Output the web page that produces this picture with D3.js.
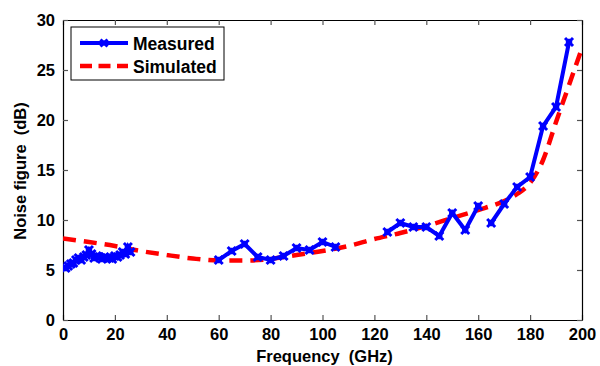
<!DOCTYPE html>
<html>
<head>
<meta charset="utf-8">
<script src="https://cdn.jsdelivr.net/npm/d3@7"></script>
<style>
  body { margin: 0; background: #fff; }
  text { font-family: Arial, "Liberation Sans", sans-serif; font-weight: bold; white-space: pre; }
</style>
</head>
<body>
<svg id="chart" width="600" height="366"></svg>
<script>
// measured noise figure, null = gap between sweeps
var measFreq = [1,2,3,4,5,6,7,8,9,10,11,12,13,14,15,16,17,18,19,20,21,22,23,24,25,26, null,
  60,65,70,75,80,85,90,95,100,105, null,
  125,130,135,140,145,150,155,160, null,
  165,170,175,180,185,190,195];
var measNF = [5.2,5.4,5.6,5.7,6.0,6.2,6.0,6.3,6.5,7.0,6.6,6.2,6.4,6.3,6.1,6.3,6.2,6.2,6.1,6.4,6.3,6.5,6.8,6.6,7.3,6.8, null,
  6.0,6.9,7.6,6.3,6.0,6.4,7.2,7.0,7.8,7.3, null,
  8.8,9.7,9.3,9.3,8.4,10.7,9.0,11.4, null,
  9.7,11.6,13.3,14.3,19.4,21.3,27.8];

// simulated curve
var simFreq = [0,10,20,30,40,50,60,70,80,90,100,110,120,130,140,150,160,170,175,180,185,190,195,200];
var simNF = [8.15,7.8,7.4,6.9,6.5,6.15,5.95,5.95,6.1,6.5,6.9,7.4,8.1,8.7,9.4,10.2,11.0,11.9,12.6,13.7,16.0,19.8,23.5,27.2];

var xTicks = [0,20,40,60,80,100,120,140,160,180,200];
var yTicks = [0,5,10,15,20,25,30];

var svg = d3.select("#chart");
var pLeft = 63, pRight = 582, pTop = 20, pBottom = 320;

var x = d3.scaleLinear().domain([0,200]).range([pLeft,pRight]);
var y = d3.scaleLinear().domain([0,30]).range([pBottom,pTop]);

var meas = measFreq.map(function(f,i){ return {f:f, v:measNF[i]}; });
var sim = simFreq.map(function(f,i){ return {f:f, v:simNF[i]}; });

svg.append("clipPath").attr("id","clip")
  .append("rect").attr("x",pLeft).attr("y",pTop).attr("width",pRight-pLeft).attr("height",pBottom-pTop);

// axes (box with inward ticks)
svg.append("g").attr("transform","translate(0,"+pBottom+")")
  .call(d3.axisBottom(x).tickValues(xTicks).tickSizeInner(-5).tickSizeOuter(0).tickPadding(8));
svg.append("g").attr("transform","translate(0,"+pTop+")")
  .call(d3.axisTop(x).tickValues(xTicks).tickSizeInner(-5).tickSizeOuter(0).tickFormat(""));
svg.append("g").attr("transform","translate("+pLeft+",0)")
  .call(d3.axisLeft(y).tickValues(yTicks).tickSizeInner(-5).tickSizeOuter(0).tickPadding(8));
svg.append("g").attr("transform","translate("+pRight+",0)")
  .call(d3.axisRight(y).tickValues(yTicks).tickSizeInner(-5).tickSizeOuter(0).tickFormat(""));

svg.selectAll(".domain").attr("stroke","#000").attr("stroke-width",1.2);
svg.selectAll(".tick line").attr("stroke","#555").attr("stroke-width",1.2);
svg.selectAll(".tick text").attr("font-size",16.5).attr("fill","#000")
  .style("font-family","Arial, 'Liberation Sans', sans-serif").style("font-weight","bold");

var line = d3.line()
  .defined(function(d){ return d.f !== null && d.v !== null; })
  .x(function(d){ return x(d.f); })
  .y(function(d){ return y(d.v); });

var plot = svg.append("g").attr("clip-path","url(#clip)");

plot.append("path").datum(sim)
  .attr("d", line.curve(d3.curveMonotoneX))
  .attr("fill","none").attr("stroke","#ff0000").attr("stroke-width",4.5)
  .attr("stroke-dasharray","13,8");

line.curve(d3.curveLinear);
plot.append("path").datum(meas)
  .attr("d", line)
  .attr("fill","none").attr("stroke","#0000ff").attr("stroke-width",4);

function xMark(g, cx, cy, s) {
  g.append("path")
    .attr("d","M"+(cx-s)+","+(cy-s)+"L"+(cx+s)+","+(cy+s)+"M"+(cx-s)+","+(cy+s)+"L"+(cx+s)+","+(cy-s)
      +"M"+(cx-s*0.8)+","+cy+"L"+(cx+s*0.8)+","+cy+"M"+cx+","+(cy-s*0.8)+"L"+cx+","+(cy+s*0.8))
    .attr("stroke","#0000ff").attr("stroke-width",3).attr("fill","none");
}
meas.filter(function(d){ return d.f !== null; }).forEach(function(d){
  xMark(plot, x(d.f), y(d.v), 4);
});

// legend
var lg = svg.append("g");
lg.append("rect").attr("x",71).attr("y",27).attr("width",153).attr("height",53)
  .attr("fill","#fff").attr("stroke","#000").attr("stroke-width",1);
lg.append("line").attr("x1",80).attr("x2",128).attr("y1",43).attr("y2",43)
  .attr("stroke","#0000ff").attr("stroke-width",4);
xMark(lg, 104, 43, 3.5);
lg.append("text").attr("x",133).attr("y",49.5).attr("font-size",17.5).text("Measured");
lg.append("line").attr("x1",80).attr("x2",128).attr("y1",66).attr("y2",66)
  .attr("stroke","#ff0000").attr("stroke-width",4.5).attr("stroke-dasharray","12,6.5");
lg.append("text").attr("x",133).attr("y",72.5).attr("font-size",17.5).text("Simulated");

// axis labels
svg.append("text").attr("x",(pLeft+pRight)/2 + 2).attr("y",362).attr("text-anchor","middle")
  .attr("font-size",16.5).text("Frequency  (GHz)");
svg.append("text").attr("transform","translate(26,"+((pTop+pBottom)/2 + 1)+") rotate(-90)")
  .attr("text-anchor","middle").attr("font-size",16.5).text("Noise figure  (dB)");
</script>
</body>
</html>
